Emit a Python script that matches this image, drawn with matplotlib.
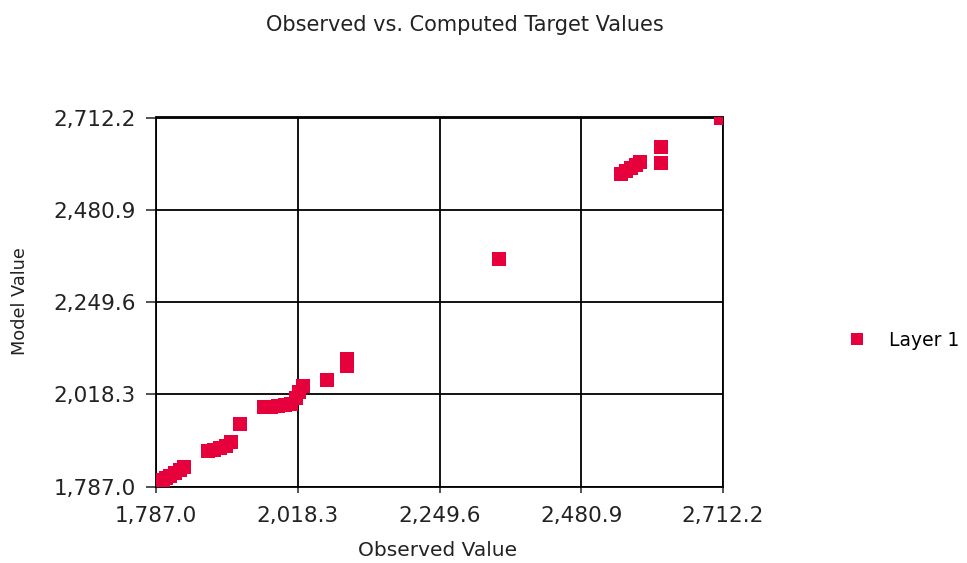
import matplotlib
matplotlib.use("Agg")
import matplotlib.pyplot as plt
from matplotlib.lines import Line2D

# Data
observed = [1798.4, 1803.3, 1809.8, 1818.0, 1826.2, 1832.7,
            1871.8, 1881.6, 1891.4, 1901.2, 1909.4,
            1924.1,
            1963.2, 1974.6, 1986.1, 1997.5, 2007.3,
            2015.4, 2020.3, 2026.9,
            2066.0,
            2098.7, 2098.7,
            2346.7,
            2545.8, 2554.0, 2562.1, 2570.3, 2576.8,
            2611.1, 2611.1,
            2708.0]
model = [1803.8, 1808.8, 1813.8, 1821.3, 1828.8, 1836.4,
         1876.5, 1879.0, 1884.0, 1889.0, 1899.0,
         1944.1,
         1986.7, 1986.7, 1989.2, 1991.7, 1994.2,
         2009.3, 2024.3, 2039.4,
         2054.4,
         2107.0, 2089.4,
         2357.6,
         2570.1, 2577.6, 2585.1, 2592.6, 2600.2,
         2637.8, 2597.7,
         2710.0]
tick_values = [1787.0, 2018.3, 2249.6, 2480.9, 2712.2]
tick_labels = ["1,787.0", "2,018.3", "2,249.6", "2,480.9", "2,712.2"]
series_name = "Layer 1"

W, H = 967, 563
fig = plt.figure(figsize=(W / 100, H / 100), dpi=100)
plt.rcParams['font.family'] = ['DejaVu Sans']

left, right, top, bottom = 156, 723, 117.5, 486.7
ax = fig.add_axes([left / W, 1 - bottom / H, (right - left) / W, (bottom - top) / H])

color = '#E6003C'
ax.scatter(observed, model, marker='s', s=95, color=color, edgecolors='none', zorder=3)

ax.set_xlim(tick_values[0], tick_values[-1])
ax.set_ylim(tick_values[0], tick_values[-1])
ax.set_xticks(tick_values)
ax.set_xticklabels(tick_labels)
ax.set_yticks(tick_values)
ax.set_yticklabels(tick_labels)
ax.grid(True, color='black', linewidth=1.3)
ax.set_axisbelow(True)
for s in ax.spines.values():
    s.set_color('black')
    s.set_linewidth(1.3)

ax.tick_params(axis='x', direction='out', length=4, width=1.1, pad=10, labelsize=15.5, colors='#222222')
ax.tick_params(axis='y', direction='out', length=7, width=1.1, pad=7.5, labelsize=15.5, colors='#222222')

ax.set_xlabel("Observed Value", fontsize=14.5, color='#222222', va='center')
ax.xaxis.set_label_coords((438 - left) / (right - left), (bottom - 550) / (bottom - top))
ax.set_ylabel("Model Value", fontsize=12.8, color='#222222', va='center')
ax.yaxis.set_label_coords((20 - left) / (right - left), (bottom - 301) / (bottom - top))

fig.text(465 / W, 1 - 25 / H, "Observed vs. Computed Target Values", ha='center', va='center',
         fontsize=15, color='#222222')

handle = Line2D([], [], marker='s', linestyle='none', markersize=8, color=color, markeredgewidth=0)
fig.legend([handle], [series_name], loc='center left', bbox_to_anchor=(848 / W, 1 - 340 / H),
           frameon=False, fontsize=13.5, handlelength=1.0, handletextpad=1.2,
           borderaxespad=0, borderpad=0)

fig.savefig("out.png", dpi=100, facecolor='white')
